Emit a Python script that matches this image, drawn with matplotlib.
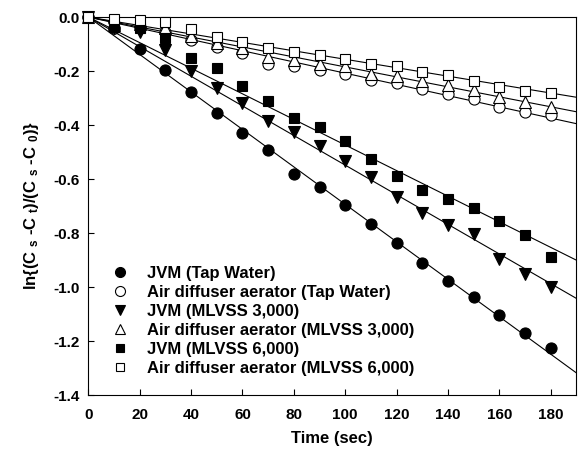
import numpy as np
import matplotlib
matplotlib.use("Agg")
import matplotlib.pyplot as plt

plt.rcParams['font.family'] = ['Liberation Sans', 'DejaVu Sans']
plt.rcParams['font.weight'] = 'bold'
plt.rcParams['mathtext.fontset'] = 'custom'
plt.rcParams['mathtext.rm'] = 'Liberation Sans:bold'
plt.rcParams['mathtext.bf'] = 'Liberation Sans:bold'
plt.rcParams['mathtext.it'] = 'Liberation Sans:bold'

# --- dados ---
tempo = [0, 10, 20, 30, 40, 50, 60, 70, 80, 90, 100, 110, 120, 130, 140, 150, 160, 170, 180]

jvm_agua = [0, -0.04, -0.119, -0.196, -0.277, -0.357, -0.431, -0.493, -0.581, -0.628,
            -0.697, -0.768, -0.838, -0.91, -0.977, -1.038, -1.104, -1.169, -1.227]
ar_agua = [0, -0.04, -0.035, -0.054, -0.085, -0.11, -0.134, -0.172, -0.181, -0.196,
           -0.209, -0.233, -0.243, -0.268, -0.285, -0.305, -0.332, -0.351, -0.363]
jvm_3000 = [0, -0.04, -0.054, -0.122, -0.2, -0.264, -0.317, -0.385, -0.425, -0.478,
            -0.532, -0.594, -0.665, -0.727, -0.77, -0.805, -0.897, -0.953, -1.001]
ar_3000 = [0, -0.03, -0.025, -0.04, -0.07, -0.095, -0.115, -0.147, -0.16, -0.172,
           -0.181, -0.209, -0.219, -0.236, -0.252, -0.27, -0.295, -0.314, -0.332]
jvm_6000 = [0, -0.035, -0.04, -0.079, -0.153, -0.188, -0.254, -0.311, -0.373, -0.406,
            -0.459, -0.527, -0.59, -0.641, -0.675, -0.709, -0.756, -0.807, -0.888]
ar_6000 = [0, -0.007, -0.011, -0.017, -0.044, -0.073, -0.091, -0.116, -0.128, -0.141,
           -0.157, -0.175, -0.18, -0.205, -0.215, -0.236, -0.258, -0.273, -0.28]

series = [
    (jvm_agua, 'o', 'black', 'JVM (Tap Water)'),
    (ar_agua, 'o', 'white', 'Air diffuser aerator (Tap Water)'),
    (jvm_3000, 'v', 'black', 'JVM (MLVSS 3,000)'),
    (ar_3000, '^', 'white', 'Air diffuser aerator (MLVSS 3,000)'),
    (jvm_6000, 's', 'black', 'JVM (MLVSS 6,000)'),
    (ar_6000, 's', 'white', 'Air diffuser aerator (MLVSS 6,000)'),
]
tamanhos = {'o': 8, 'v': 8, '^': 8, 's': 7}

fig = plt.figure(figsize=(5.78, 4.62), dpi=100)
ax = fig.add_axes([0.153, 0.145, 0.844, 0.818])

t = np.array(tempo, dtype=float)
t_linha = np.array([0, 190.0])
for valores, marcador, cor, rotulo in series:
    v = np.array(valores)
    # regressao pela origem
    k = np.sum(t * v) / np.sum(t * t)
    ax.plot(t_linha, k * t_linha, color='black', linewidth=0.8, zorder=2)
    ax.plot(t, v, linestyle='none', marker=marcador, markersize=tamanhos[marcador],
            markerfacecolor=cor, markeredgecolor='black', markeredgewidth=0.8,
            label=rotulo, zorder=3, clip_on=False)

ax.set_xlim(0, 190)
ax.set_ylim(-1.4, 0.0)
ax.set_xticks(range(0, 181, 20))
yticks = np.round(np.arange(-1.4, 0.01, 0.2), 1) + 0.0
ax.set_yticks(yticks)
ax.set_yticklabels([f"{y:.1f}" for y in yticks])
ax.tick_params(direction='in', length=4, width=0.8, labelsize=11)
ax.tick_params(axis='x', pad=9)
ax.tick_params(axis='y', pad=6)
for lab in ax.get_xticklabels() + ax.get_yticklabels():
    lab.set_fontweight('bold')

ax.set_xlabel('Time (sec)', fontsize=12, fontweight='bold', labelpad=7)
ax.set_ylabel(r'ln{(C $_{s}$ -C $_{t}$)/(C $_{s}$ -C $_{0}$)}', fontsize=12,
              fontweight='bold', labelpad=9)

for lado in ['top', 'right', 'left', 'bottom']:
    ax.spines[lado].set_linewidth(0.8)

leg = ax.legend(loc='upper left', bbox_to_anchor=(0.045, 0.342), frameon=False,
                fontsize=12, handletextpad=1.0, labelspacing=0.24, markerscale=0.9,
                handlelength=1.2, borderaxespad=0, borderpad=0)
for txt in leg.get_texts():
    txt.set_fontweight('bold')

fig.savefig('out.png', dpi=100)
